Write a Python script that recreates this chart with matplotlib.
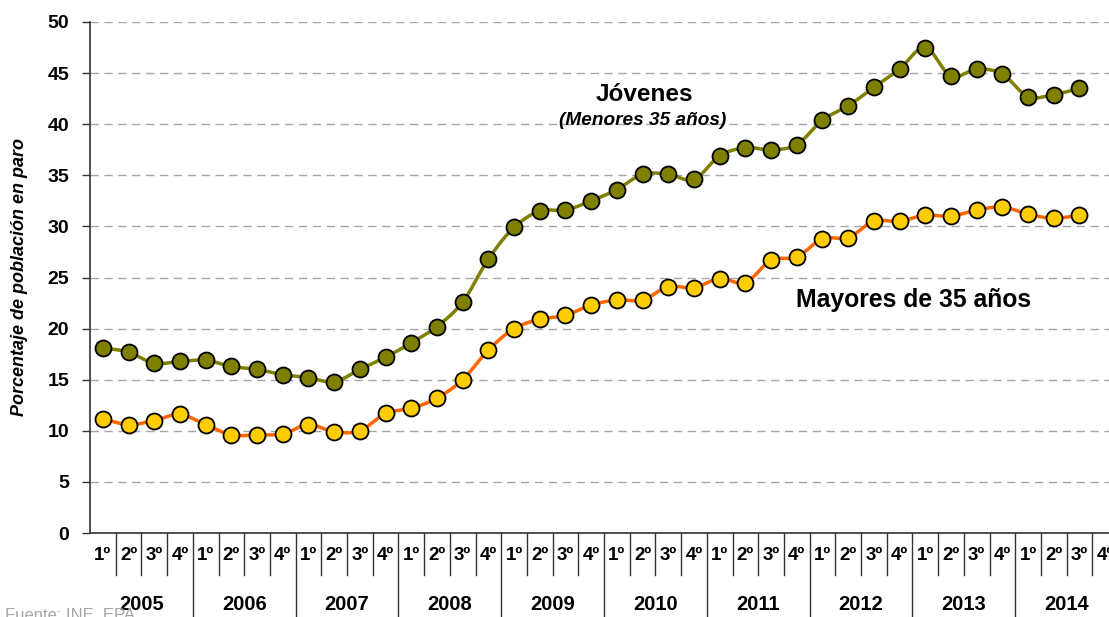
import numpy as np
import matplotlib
matplotlib.use("Agg")
import matplotlib.pyplot as plt
import matplotlib.transforms as mtransforms

plt.rcParams['font.family'] = ['Liberation Sans', 'DejaVu Sans']

# data
years = ['2005', '2006', '2007', '2008', '2009', '2010', '2011', '2012', '2013', '2014']
quarters = ['1º', '2º', '3º', '4º']
jovenes = [18.1, 17.7, 16.6, 16.8,
           16.9, 16.3, 16.0, 15.5,
           15.2, 14.8, 16.0, 17.2,
           18.6, 20.2, 22.6, 26.8,
           29.9, 31.5, 31.6, 32.5,
           33.6, 35.1, 35.1, 34.6,
           36.9, 37.7, 37.5, 38.0,
           40.4, 41.8, 43.6, 45.4,
           47.5, 44.7, 45.4, 44.9,
           42.7, 42.9, 43.5]
mayores = [11.2, 10.6, 11.0, 11.6,
           10.6, 9.6, 9.6, 9.7,
           10.6, 9.9, 10.0, 11.7,
           12.2, 13.2, 15.0, 17.9,
           20.0, 20.9, 21.3, 22.3,
           22.8, 22.8, 24.1, 24.0,
           24.9, 24.5, 26.7, 27.0,
           28.8, 28.9, 30.5, 30.5,
           31.1, 31.0, 31.6, 31.9,
           31.2, 30.8, 31.1]


def smooth(y, n=20):
    # Catmull-Rom through the points (like Excel smoothed lines)
    y = np.asarray(y, float)
    x = np.arange(len(y), dtype=float)
    px = np.concatenate([[x[0]], x, [x[-1]]])
    py = np.concatenate([[y[0]], y, [y[-1]]])
    xs, ys = [], []
    t = np.linspace(0, 1, n, endpoint=False)
    for i in range(1, len(px) - 2):
        for arr, out in ((px, xs), (py, ys)):
            p0, p1, p2, p3 = arr[i - 1], arr[i], arr[i + 1], arr[i + 2]
            v = 0.5 * ((2 * p1) + (-p0 + p2) * t + (2 * p0 - 5 * p1 + 4 * p2 - p3) * t ** 2
                       + (-p0 + 3 * p1 - 3 * p2 + p3) * t ** 3)
            out.extend(v)
    xs.append(x[-1]); ys.append(y[-1])
    return np.array(xs), np.array(ys)


fig = plt.figure(figsize=(11.09, 6.17), dpi=100)
W, H = 1109, 617
ax = fig.add_axes([90 / W, (H - 533) / H, (W - 90) / W, (533 - 22) / H])

n_slots = len(years) * len(quarters)
ax.set_xlim(-0.5, -0.5 + (W - 90) / 25.7)
ax.set_ylim(0, 50)

for yv in range(5, 51, 5):
    ax.axhline(yv, color='#a6a6a6', lw=1, ls=(0, (6, 4)), zorder=1)

for vals, lc, fc in ((jovenes, '#808000', '#808000'), (mayores, '#ff6600', '#ffcc00')):
    sx, sy = smooth(vals)
    ax.plot(sx, sy, color=lc, lw=2.5, zorder=2, solid_capstyle='round')
    ax.plot(np.arange(len(vals)), vals, ls='none', marker='o', ms=11.5,
            mfc=fc, mec='black', mew=1.3, zorder=3)

for s in ['top', 'right']:
    ax.spines[s].set_visible(False)
ax.spines['left'].set_color('#333333')
ax.spines['bottom'].set_color('#333333')
ax.spines['left'].set_linewidth(1.2)
ax.spines['bottom'].set_linewidth(1.2)

ax.set_yticks(range(0, 51, 5))
ax.set_yticklabels([str(v) for v in range(0, 51, 5)], fontsize=14, fontweight='bold')
ax.tick_params(axis='y', length=6, width=1, color='#333333', pad=9)
ax.set_xticks([])
ax.set_ylabel('Porcentaje de población en paro', fontsize=13, fontweight='bold',
              style='italic', labelpad=14)

# category axis: quarters and years
trans = mtransforms.blended_transform_factory(ax.transData, ax.transAxes)
q_low = -(575 - 533) / 511
y_low = -(620 - 533) / 511
for i in range(n_slots):
    ax.text(i, -(555 - 533) / 511, quarters[i % 4], transform=trans, ha='center', va='center',
            fontsize=13.5, fontweight='bold', clip_on=False)
    bottom = y_low if i % 4 == 0 else q_low
    if i > 0:
        ax.plot([i - 0.5, i - 0.5], [0, bottom], transform=trans, color='#333333', lw=1,
                clip_on=False)
ax.plot([n_slots - 0.5, n_slots - 0.5], [0, y_low], transform=trans, color='#333333', lw=1,
        clip_on=False)
for k, yr in enumerate(years):
    ax.text(4 * k + 1.5, -(604 - 533) / 511, yr, transform=trans, ha='center', va='center',
            fontsize=14.5, fontweight='bold', clip_on=False)

# annotations
ax.text(21.06, 42.9, 'Jóvenes', ha='center', va='center', fontsize=17.5, fontweight='bold')
ax.text(21.0, 40.4, '(Menores 35 años)', ha='center', va='center', fontsize=13.7,
        fontweight='bold', style='italic')
ax.text(31.56, 22.8, 'Mayores de 35 años', ha='center', va='center', fontsize=17.8,
        fontweight='bold')

fig.text(5 / W, -6 / H, 'Fuente: INE. EPA', fontsize=12, color='#a6a6a6', ha='left',
         va='bottom')

fig.savefig('out.png', dpi=100)
